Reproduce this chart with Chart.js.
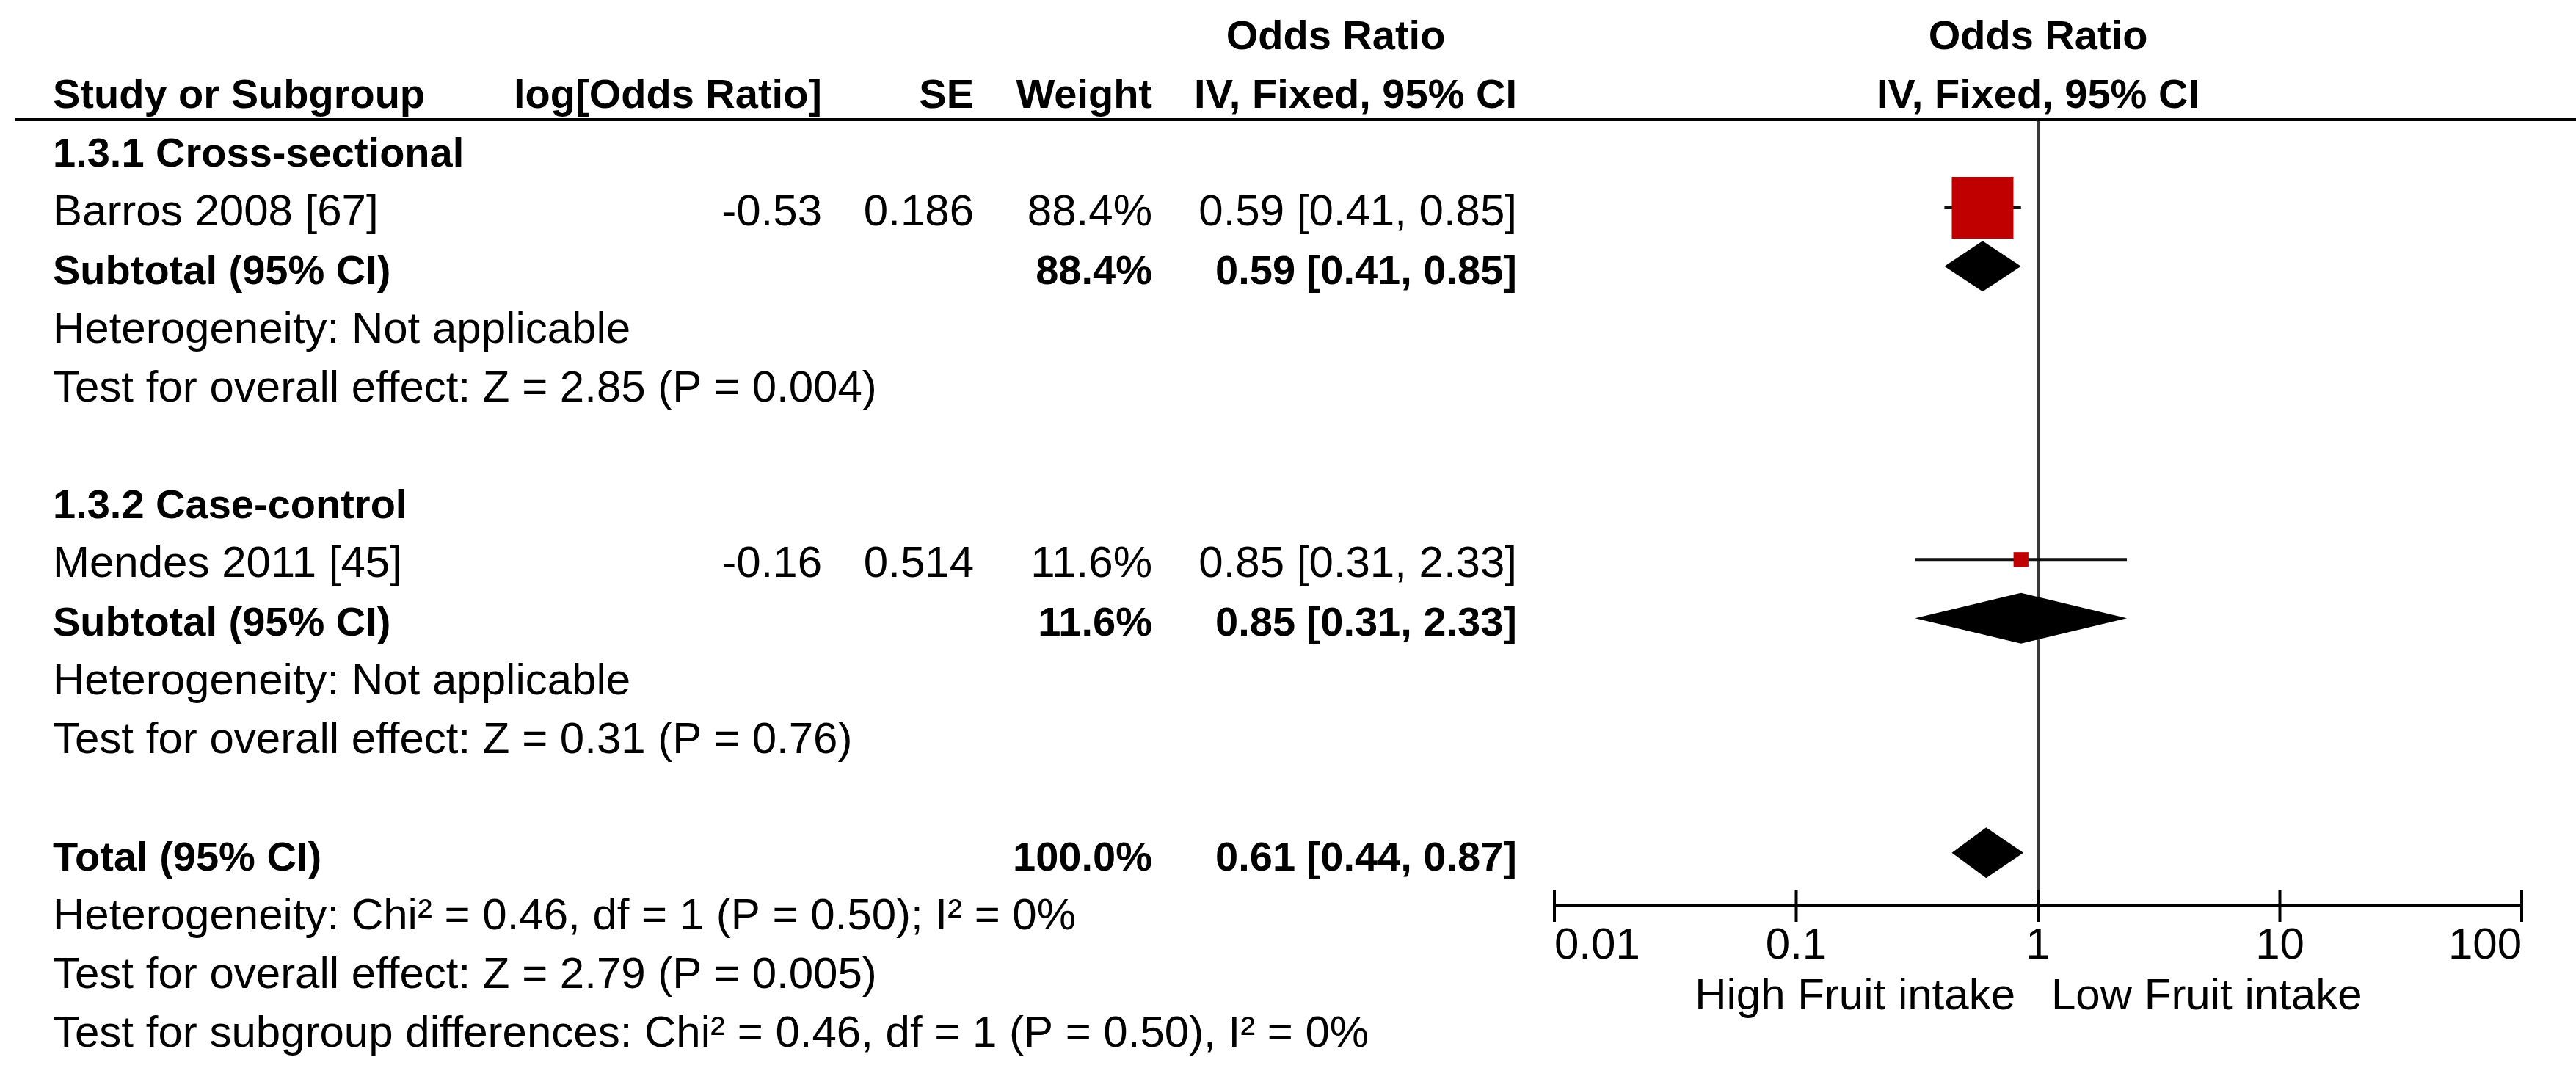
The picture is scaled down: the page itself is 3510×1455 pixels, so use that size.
<!DOCTYPE html>
<html>
<head>
<meta charset="utf-8">
<script src="https://cdn.jsdelivr.net/npm/chart.js@4.4.0/dist/chart.umd.min.js"></script>
<style>
  html, body { margin: 0; padding: 0; background: #fff; }
  canvas { display: block; }
</style>
</head>
<body>
<canvas id="forest" width="3510" height="1455" style="width:3510px;height:1455px"></canvas>
<script>
// study level data
const studyNames = ['Barros 2008 [67]', 'Mendes 2011 [45]'];
const studyGroup = [0, 1];
const studyLogOR = [-0.53, -0.16];
const studySE = [0.186, 0.514];
const studyWeight = [88.4, 11.6];
const studyOR = [0.59, 0.85];
const studyLow = [0.41, 0.31];
const studyHigh = [0.85, 2.33];

// subgroups
const groupNames = ['1.3.1 Cross-sectional', '1.3.2 Case-control'];
const groupWeight = [88.4, 11.6];
const groupOR = [0.59, 0.85];
const groupLow = [0.41, 0.31];
const groupHigh = [0.85, 2.33];
const groupHet = ['Heterogeneity: Not applicable', 'Heterogeneity: Not applicable'];
const groupEffect = ['Test for overall effect: Z = 2.85 (P = 0.004)', 'Test for overall effect: Z = 0.31 (P = 0.76)'];

// overall
const totalWeight = 100.0;
const totalOR = 0.61;
const totalLow = 0.44;
const totalHigh = 0.87;
const totalNotes = [
  'Heterogeneity: Chi\u00B2 = 0.46, df = 1 (P = 0.50); I\u00B2 = 0%',
  'Test for overall effect: Z = 2.79 (P = 0.005)',
  'Test for subgroup differences: Chi\u00B2 = 0.46, df = 1 (P = 0.50), I\u00B2 = 0%'
];

// axis
const axisTicks = [0.01, 0.1, 1, 10, 100];
const axisTickLabels = ['0.01', '0.1', '1', '10', '100'];
const favoursLabels = ['High Fruit intake', 'Low Fruit intake'];

// layout (pixels)
const AREA_TOP = 163, AREA_BOTTOM = 1233, AREA_LEFT = 2118, AREA_RIGHT = 3436;
const ROW_H = 79.9, FIRST_ROW = 203, BASE_OFF = 24;
const FONT = '"Liberation Sans", Arial, sans-serif';
const REG = '60px ' + FONT;
const BOLD = 'bold 56px ' + FONT;
const COL = { name: 72, logOR: 1120, se: 1327, weight: 1570, ci: 2067, orHead: 1820 };

// assign rows
const studyRow = [], groupRow = [], subRow = [];
let r = 0;
groupNames.forEach((g, gi) => {
  groupRow[gi] = r++;
  studyNames.forEach((s, si) => {
    if (studyGroup[si] === gi) studyRow[si] = r++;
  });
  subRow[gi] = r++;
  r += 3; // het, effect, blank
});
const totalRow = r;

const fmtCI = (or, lo, hi) => or.toFixed(2) + ' [' + lo.toFixed(2) + ', ' + hi.toFixed(2) + ']';
const squareSide = w => 84 * Math.pow(w / 88.4, 0.7);

const datasets = [];
studyNames.forEach((s, i) => {
  datasets.push({
    data: [{ x: studyLow[i], y: studyRow[i] }, { x: studyHigh[i], y: studyRow[i] }],
    showLine: true,
    borderColor: '#111',
    borderWidth: 4,
    pointRadius: 0,
    order: 2
  });
});
datasets.push({
  data: studyNames.map((s, i) => ({ x: studyOR[i], y: studyRow[i] })),
  pointStyle: 'rect',
  pointRadius: studyWeight.map(w => squareSide(w) / Math.SQRT2),
  backgroundColor: '#c00000',
  borderWidth: 0,
  order: 1
});

function text(ctx, s, x, y, align, bold) {
  ctx.font = bold ? BOLD : REG;
  ctx.textAlign = align;
  ctx.fillText(s, x, y);
}

function diamond(ctx, xs, ys, lo, est, hi, y) {
  const cy = ys.getPixelForValue(y);
  const h = 34.5;
  ctx.beginPath();
  ctx.moveTo(xs.getPixelForValue(lo), cy);
  ctx.lineTo(xs.getPixelForValue(est), cy - h);
  ctx.lineTo(xs.getPixelForValue(hi), cy);
  ctx.lineTo(xs.getPixelForValue(est), cy + h);
  ctx.closePath();
  ctx.fillStyle = '#000';
  ctx.fill();
}

const forestPlugin = {
  id: 'forest',
  beforeDatasetsDraw(chart) {
    const ctx = chart.ctx, xs = chart.scales.x, a = chart.chartArea;
    const x1 = xs.getPixelForValue(1);
    ctx.save();
    ctx.strokeStyle = '#383838';
    ctx.lineWidth = 4;
    ctx.beginPath();
    ctx.moveTo(x1, a.top);
    ctx.lineTo(x1, a.bottom);
    ctx.stroke();
    ctx.restore();
  },
  afterDatasetsDraw(chart) {
    const ctx = chart.ctx, xs = chart.scales.x, ys = chart.scales.y;
    ctx.save();
    groupNames.forEach((g, gi) => diamond(ctx, xs, ys, groupLow[gi], groupOR[gi], groupHigh[gi], subRow[gi]));
    diamond(ctx, xs, ys, totalLow, totalOR, totalHigh, totalRow);
    ctx.restore();
  },
  afterDraw(chart) {
    const ctx = chart.ctx, xs = chart.scales.x, ys = chart.scales.y, a = chart.chartArea;
    const base = row => ys.getPixelForValue(row) + BASE_OFF;
    const x1 = xs.getPixelForValue(1);
    ctx.save();
    ctx.fillStyle = '#000';
    ctx.textBaseline = 'alphabetic';

    // header
    text(ctx, 'Odds Ratio', COL.orHead, base(-2), 'center', true);
    text(ctx, 'Odds Ratio', x1, base(-2), 'center', true);
    text(ctx, 'Study or Subgroup', COL.name, base(-1), 'left', true);
    text(ctx, 'log[Odds Ratio]', COL.logOR, base(-1), 'right', true);
    text(ctx, 'SE', COL.se, base(-1), 'right', true);
    text(ctx, 'Weight', COL.weight, base(-1), 'right', true);
    text(ctx, 'IV, Fixed, 95% CI', COL.ci, base(-1), 'right', true);
    text(ctx, 'IV, Fixed, 95% CI', x1, base(-1), 'center', true);
    ctx.fillRect(20, a.top - 2, 3510 - 20, 4);

    // subgroups and studies
    groupNames.forEach((g, gi) => {
      text(ctx, g, COL.name, base(groupRow[gi]), 'left', true);
      studyNames.forEach((s, si) => {
        if (studyGroup[si] !== gi) return;
        const y = base(studyRow[si]);
        text(ctx, s, COL.name, y, 'left', false);
        text(ctx, studyLogOR[si].toFixed(2), COL.logOR, y, 'right', false);
        text(ctx, studySE[si].toFixed(3), COL.se, y, 'right', false);
        text(ctx, studyWeight[si].toFixed(1) + '%', COL.weight, y, 'right', false);
        text(ctx, fmtCI(studyOR[si], studyLow[si], studyHigh[si]), COL.ci, y, 'right', false);
      });
      const ys2 = base(subRow[gi]);
      text(ctx, 'Subtotal (95% CI)', COL.name, ys2, 'left', true);
      text(ctx, groupWeight[gi].toFixed(1) + '%', COL.weight, ys2, 'right', true);
      text(ctx, fmtCI(groupOR[gi], groupLow[gi], groupHigh[gi]), COL.ci, ys2, 'right', true);
      text(ctx, groupHet[gi], COL.name, base(subRow[gi] + 1), 'left', false);
      text(ctx, groupEffect[gi], COL.name, base(subRow[gi] + 2), 'left', false);
    });

    // total
    text(ctx, 'Total (95% CI)', COL.name, base(totalRow), 'left', true);
    text(ctx, totalWeight.toFixed(1) + '%', COL.weight, base(totalRow), 'right', true);
    text(ctx, fmtCI(totalOR, totalLow, totalHigh), COL.ci, base(totalRow), 'right', true);
    totalNotes.forEach((n, i) => text(ctx, n, COL.name, base(totalRow + 1 + i), 'left', false));

    // x axis
    const ay = a.bottom;
    ctx.fillRect(xs.getPixelForValue(axisTicks[0]), ay - 2, xs.getPixelForValue(axisTicks[axisTicks.length - 1]) - xs.getPixelForValue(axisTicks[0]), 4);
    axisTicks.forEach((t, i) => {
      const px = xs.getPixelForValue(t);
      ctx.fillRect(px - 2, ay - 21, 4, 44);
      const align = i === 0 ? 'left' : (i === axisTicks.length - 1 ? 'right' : 'center');
      text(ctx, axisTickLabels[i], px, ay + 73, align, false);
    });
    text(ctx, favoursLabels[0], x1 - 31, ay + 142, 'right', false);
    text(ctx, favoursLabels[1], x1 + 18, ay + 142, 'left', false);
    ctx.restore();
  }
};

new Chart(document.getElementById('forest').getContext('2d'), {
  type: 'scatter',
  data: { datasets: datasets },
  options: {
    responsive: false,
    animation: false,
    devicePixelRatio: 1,
    layout: {
      padding: { left: AREA_LEFT, right: 3510 - AREA_RIGHT, top: AREA_TOP, bottom: 1455 - AREA_BOTTOM }
    },
    plugins: { legend: { display: false }, tooltip: { enabled: false } },
    scales: {
      x: { type: 'logarithmic', min: 0.01, max: 100, display: false },
      y: {
        type: 'linear',
        reverse: true,
        display: false,
        min: (AREA_TOP - FIRST_ROW) / ROW_H,
        max: (AREA_BOTTOM - FIRST_ROW) / ROW_H
      }
    }
  },
  plugins: [forestPlugin]
});
</script>
</body>
</html>
